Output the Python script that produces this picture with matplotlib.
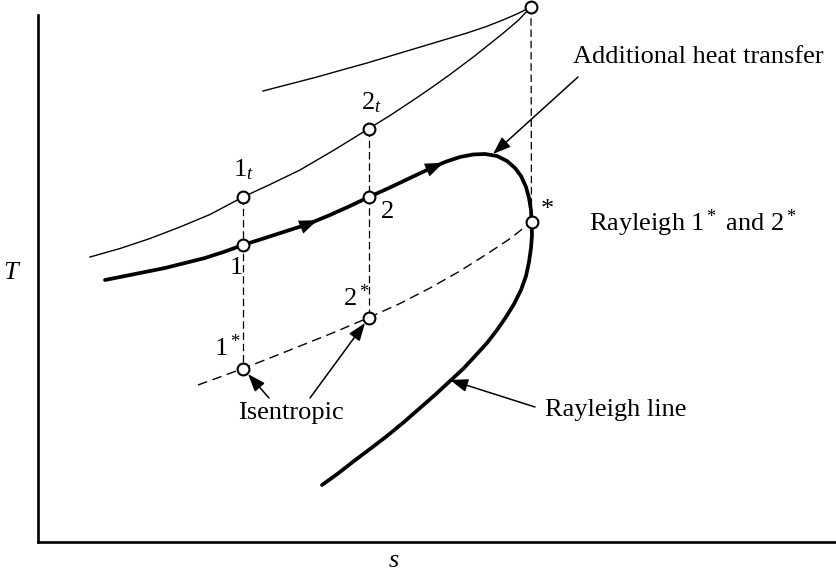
import matplotlib
matplotlib.use("Agg")
import matplotlib.pyplot as plt
import numpy as np

plt.rcParams['font.family'] = ['Liberation Serif', 'DejaVu Serif']
plt.rcParams['mathtext.fontset'] = 'custom'
plt.rcParams['mathtext.rm'] = 'Liberation Serif'
plt.rcParams['mathtext.it'] = 'Liberation Serif:italic'

# ---- data (s, T in drawing units; T measured upward) ----
rayleigh_s = [105, 125, 145, 165, 185, 205, 225, 243, 265, 285, 307, 330, 350, 369, 390,
              410, 428, 445, 460, 473, 485, 497, 507, 515, 521, 526, 529, 531, 531.5,
              532, 531, 529, 526, 521, 514, 506, 497, 487, 476, 464, 450, 436, 420,
              404, 387, 370, 354, 338, 322]
rayleigh_py = [280, 276, 272, 268, 263, 258, 251.5, 245, 238, 231.5, 224.5, 215, 206, 197,
               187.5, 178, 169.5, 162, 157, 154.5, 154, 156, 161, 168, 176, 187, 198,
               210, 222, 235, 248, 262, 276, 290, 304, 317, 330, 343, 355, 368, 381,
               394, 408, 422, 436, 449, 461, 473.5, 485]
rayleigh_T = [574 - v for v in rayleigh_py]

stag_s = [90, 120, 150, 180, 210, 243, 270, 300, 335, 369, 390, 413, 430, 450, 475,
          503, 518, 531]
stag_py = [257, 248.5, 238.5, 227, 214.5, 197, 184.5, 170, 149.5, 128.5, 115.5, 100.3,
           88.7, 74.5, 55.7, 33.3, 20.6, 7]
stag_T = [574 - v for v in stag_py]

upper_s = [263, 290, 317, 340, 367, 392, 417, 442, 467, 485, 503, 518, 531]
upper_py = [91, 84, 77, 70.5, 63, 55.5, 48, 40.5, 33, 27, 20, 13.5, 7]
upper_T = [574 - v for v in upper_py]

isen_s = [198, 220, 243, 270, 300, 335, 369, 400, 430, 460, 490, 511, 531]
isen_py = [385, 377, 368.5, 358, 346, 332, 317.5, 303.5, 288, 271, 252, 238, 222]
isen_T = [574 - v for v in isen_py]

# state points: 1t, 1, 1*, 2t, 2, 2*, *, top
point_names = ['1t', '1', '1*', '2t', '2', '2*', '*', 'top']
point_s = [243, 243, 243, 369, 369, 369, 531.5, 531]
point_T = [377, 329, 205.5, 445.5, 377, 256.5, 352, 567]

fig = plt.figure(figsize=(8.36, 5.74), dpi=100)
W, H = 836, 574
ax = fig.add_axes([38 / W, (574 - 542) / H, (836 - 38) / W, (542 - 15) / H])
ax.set_xlim(38, 836)
ax.set_ylim(32, 559)
for side in ['top', 'right']:
    ax.spines[side].set_visible(False)
for side in ['left', 'bottom']:
    ax.spines[side].set_linewidth(1.9)
ax.set_xticks([])
ax.set_yticks([])

# curves
ax.plot(stag_s, stag_T, color='black', lw=1.0, zorder=2, clip_on=False)
ax.plot(upper_s, upper_T, color='black', lw=1.0, zorder=2, clip_on=False)
ax.plot(rayleigh_s, rayleigh_T, color='black', lw=2.7, solid_capstyle='round',
        solid_joinstyle='round', zorder=3)
ax.plot(isen_s, isen_T, color='black', lw=1.0, dashes=(7, 4), zorder=2)

# vertical dashed lines
ps = dict(zip(point_names, zip(point_s, point_T)))
for top, bot in [('1t', '1*'), ('2t', '2*'), ('top', '*')]:
    ax.plot([ps[top][0], ps[bot][0]], [ps[top][1], ps[bot][1]], color='black',
            lw=0.9, dashes=(6, 3), zorder=1, clip_on=False)

# flow-direction arrows on the Rayleigh line
rs = np.array(rayleigh_s, float)
rt = np.array(rayleigh_T, float)
for i, f in ((10, 0.45), (16, 0.9)):
    tail = (rs[i] - 0.5 * (rs[i + 1] - rs[i]), rt[i] - 0.5 * (rt[i + 1] - rt[i]))
    tip = (rs[i] + f * (rs[i + 1] - rs[i]), rt[i] + f * (rt[i + 1] - rt[i]))
    ax.annotate('', xy=tip, xytext=tail,
                arrowprops=dict(arrowstyle='-|>,head_length=0.65,head_width=0.25',
                                color='black', lw=0.01, shrinkA=0, shrinkB=0,
                                mutation_scale=20), zorder=4)

# open circle markers
ax.plot(point_s, point_T, 'o', ms=8.5, mfc='white', mec='black', mew=1.5, zorder=5,
        linestyle='none', clip_on=False)

fs = 19
# point labels
ax.text(243, 404, r'$1_t$', fontsize=fs, ha='center', va='center')
ax.text(371, 471, r'$2_t$', fontsize=fs, ha='center', va='center')
ax.text(236, 306, '1', fontsize=fs, ha='center', va='center')
ax.text(388, 362, '2', fontsize=fs, ha='center', va='center')
ax.text(227, 226, r'$1^*$', fontsize=fs, ha='center', va='center')
ax.text(356, 276, r'$2^*$', fontsize=fs, ha='center', va='center')
ax.text(547, 364, '*', fontsize=fs, ha='center', va='center')

# annotations
arrow_kw = dict(arrowstyle='-|>,head_length=0.6,head_width=0.22', color='black',
                lw=1.1, shrinkA=0, shrinkB=0, mutation_scale=18)
ax.text(291, 161, 'Isentropic', fontsize=fs, ha='center', va='center')
ax.annotate('', xy=(248, 200), xytext=(269, 176), arrowprops=arrow_kw)
ax.annotate('', xy=(365, 251), xytext=(310, 176), arrowprops=arrow_kw)

ax.text(545, 164, 'Rayleigh line', fontsize=fs, ha='left', va='center')
ax.annotate('', xy=(450, 194), xytext=(535, 167), arrowprops=arrow_kw)

ax.text(573, 517, 'Additional heat transfer', fontsize=fs, ha='left', va='center')
ax.annotate('', xy=(493, 420), xytext=(578, 497), arrowprops=arrow_kw)

ax.text(589, 351, r'Rayleigh 1$^*$ and 2$^*$', fontsize=fs, ha='left', va='center')

# axis labels
fig.text(12 / W, 1 - 273 / H, r'$T$', fontsize=fs, ha='center', va='center')
fig.text(394 / W, 1 - 561 / H, r'$s$', fontsize=fs, ha='center', va='center')

fig.savefig('out.png', dpi=100)
